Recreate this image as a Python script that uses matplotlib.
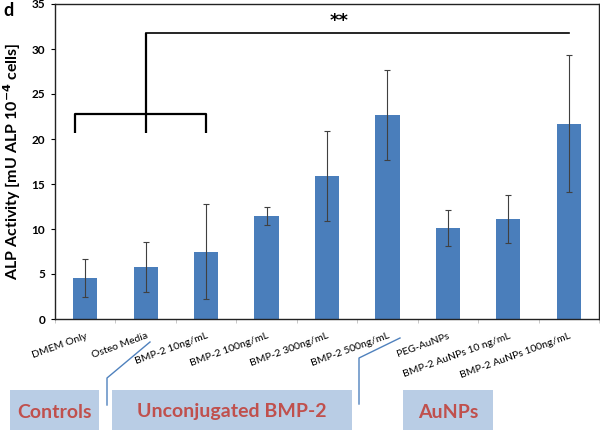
import numpy as np
import matplotlib.pyplot as plt
from matplotlib.patches import Rectangle
from matplotlib.lines import Line2D

categories = ['DMEM Only', 'Osteo Media', 'BMP-2 10ng/mL', 'BMP-2 100ng/mL',
              'BMP-2 300ng/mL', 'BMP-2 500ng/mL', 'PEG-AuNPs',
              'BMP-2 AuNPs 10 ng/mL', 'BMP-2 AuNPs 100ng/mL']
alp = [4.6, 5.8, 7.5, 11.4, 15.9, 22.7, 10.1, 11.1, 21.7]
alp_err = [2.1, 2.8, 5.3, 1.0, 5.0, 5.0, 2.0, 2.7, 7.6]
groups = ['Controls', 'Unconjugated BMP-2', 'AuNPs']
sig_text = '**'

W, H = 600, 430


def fx(px):
    return px / W


def fy(py):
    return 1 - py / H


def main():
    plt.rcParams['font.family'] = ['Lato', 'DejaVu Sans']
    fig = plt.figure(figsize=(6, 4.3), dpi=100)
    ax = fig.add_axes([fx(55), fy(319), fx(599) - fx(55), fy(4) - fy(319)])

    x = np.arange(len(categories))
    ax.bar(x, alp, width=0.4, color='#4a7ebb', zorder=2)
    ax.errorbar(x, alp, yerr=alp_err, fmt='none', ecolor='#404040',
                elinewidth=0.8, capsize=2, capthick=0.8, zorder=3)

    ax.set_xlim(-0.5, len(categories) - 0.5)
    ax.set_ylim(0, 35)
    ax.set_yticks(np.arange(0, 36, 5))
    ax.tick_params(axis='y', length=3, width=0.8, labelsize=8.5, pad=4)
    for lab in ax.get_yticklabels():
        lab.set_fontweight('bold')

    ax.set_xticks(x)
    ax.set_xticklabels(categories, fontsize=7.5, rotation=20,
                       ha='right', rotation_mode='anchor')
    ax.set_xticks(np.arange(-0.5, len(categories), 1.0), minor=True)
    ax.tick_params(axis='x', which='major', length=0, pad=9)
    ax.tick_params(axis='x', which='minor', length=3, color='#bfbfbf')

    for sp in ax.spines.values():
        sp.set_linewidth(1.0)
        sp.set_color('#222222')

    ax.set_ylabel('ALP Activity [mU ALP 10$^{\\mathbf{-4}}$ cells]',
                  fontsize=11.5, fontweight='bold', labelpad=6)

    # significance brackets
    k = dict(color='black', lw=1.6, solid_capstyle='butt', zorder=4)
    ax.plot([-0.17, -0.17, 2.0, 2.0], [20.7, 22.8, 22.8, 20.7], **k)
    ax.plot([1.0, 1.0], [20.7, 31.8], **k)
    ax.plot([1.0, 8.0], [31.8, 31.8], color='black', lw=1.2, zorder=4)
    ax.text(4.2, 32.1, sig_text, ha='center', va='bottom', fontsize=13,
            fontweight='bold', family='DejaVu Sans')

    fig.text(fx(3), fy(10), 'd', fontsize=13, fontweight='bold',
             ha='left', va='center')

    # group boxes below the axis
    boxes = [(10, 99), (112, 352), (403, 493)]
    for (x0, x1), name in zip(boxes, groups):
        fig.add_artist(Rectangle((fx(x0), fy(430)), fx(x1) - fx(x0),
                                 fy(390) - fy(430), transform=fig.transFigure,
                                 facecolor='#b9cde5', edgecolor='none'))
        fig.text(fx((x0 + x1) / 2), fy(412), name, color='#c0504d',
                 fontsize=14, fontweight='bold', ha='center', va='center')

    for xs, ys in [([107, 107, 150], [405, 378, 342]),
                   ([359, 359, 400], [404, 358, 338])]:
        fig.add_artist(Line2D([fx(v) for v in xs], [fy(v) for v in ys],
                              transform=fig.transFigure, color='#4f81bd',
                              lw=1.0))

    fig.savefig('out.png', dpi=100)


if __name__ == '__main__':
    main()
